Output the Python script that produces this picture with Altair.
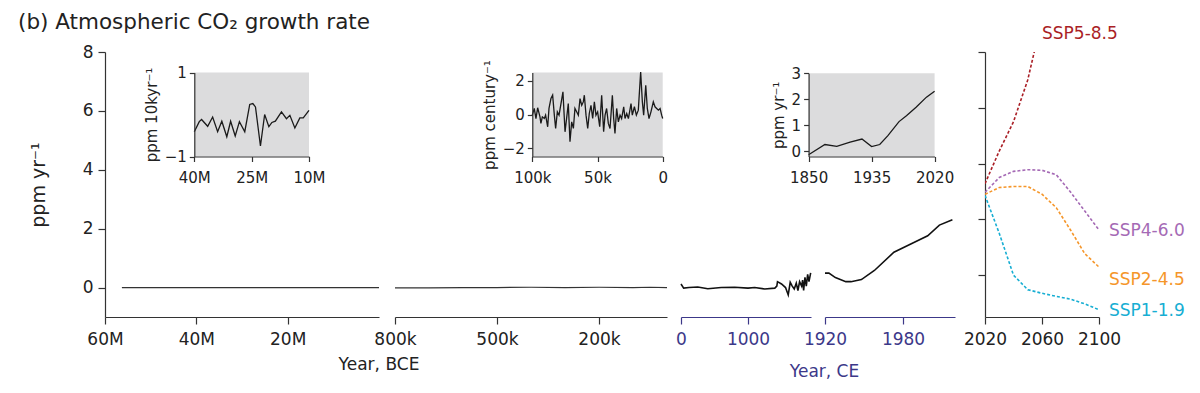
import altair as alt
import pandas as pd

FONT = "DejaVu Sans"
INK = "#222222"
AX = "#333333"
CE = "#3c3889"
GRAY = "#dcdcdd"
H = 265

TITLE = "(b) Atmospheric CO₂ growth rate"
Y_TITLE = "ppm yr⁻¹"

# ---------------- main panels ----------------
p1_year = [56.3, 40.0, 25.0, 10.0, 0.0]
p1_rate = [0.0, 0.0, 0.0, 0.0, 0.0]

p2_year = [800, 700, 600, 500, 400, 300, 200, 100, 50, 0]
p2_rate = [-0.01, -0.01, 0.0, 0.0, 0.01, 0.0, 0.01, 0.0, 0.01, 0.0]

p3_year = [0, 40, 120, 250, 400, 600, 800, 1000, 1100, 1250, 1400, 1430, 1440, 1500,
           1560, 1600, 1630, 1660, 1690, 1720, 1745, 1770, 1800, 1815, 1830, 1850,
           1870, 1890, 1910, 1935]
p3_rate = [0.12, -0.02, 0.0, 0.02, -0.04, 0.0, 0.01, -0.02, 0.0, -0.05, -0.02, 0.05, 0.2, 0.12,
           0.0, -0.25, 0.18, 0.05, -0.05, 0.15, -0.1, 0.2, 0.05, 0.25, -0.1, 0.35,
           0.05, 0.45, 0.2, 0.5]

p4_year = [1920, 1923, 1928, 1936, 1940, 1948, 1958, 1973, 1986, 1999, 2008, 2018]
p4_rate = [0.49, 0.49, 0.34, 0.20, 0.20, 0.27, 0.58, 1.20, 1.48, 1.76, 2.12, 2.30]

ssp_years = [2020, 2030, 2040, 2050, 2060, 2070, 2080, 2090, 2100]
ssp_names = ["SSP5-8.5", "SSP4-6.0", "SSP2-4.5", "SSP1-1.9"]
ssp_colors = ["#aa1f26", "#a56ab5", "#f5962a", "#17aed3"]
ssp585 = [3.28, 4.45, 5.5, 7.0, 9.2]
ssp460 = [2.97, 3.5, 3.72, 3.78, 3.76, 3.6, 2.98, 2.3, 1.62]
ssp245 = [2.9, 3.14, 3.18, 3.18, 2.9, 2.42, 1.62, 0.77, 0.29]
ssp119 = [2.86, 1.5, 0.0, -0.52, -0.65, -0.76, -0.86, -1.03, -1.24]
label_x = [2060, 2107, 2107, 2107]
label_y = [8.64, 1.58, -0.19, -1.27]

# ---------------- insets ----------------
i1_year = [40.0, 38.7, 38.1, 36.5, 35.2, 33.9, 32.8, 31.5, 30.5, 29.3, 28.2, 26.8, 25.5,
           24.7, 24.0, 22.7, 21.6, 20.5, 19.7, 18.8, 17.2, 15.9, 15.0, 13.7, 12.4, 11.5, 10.0]
i1_rate = [-0.41, -0.17, -0.12, -0.28, -0.06, -0.41, -0.16, -0.53, -0.16, -0.51, -0.17, -0.41, 0.24,
           0.26, 0.18, -0.75, 0.0, -0.29, -0.19, -0.16, 0.06, -0.1, -0.02, -0.32, -0.08, -0.08, 0.1]

i2_year = [100.0, 98.5, 97.2, 95.9, 94.1, 93.4, 92.3, 90.8, 89.8, 88.2, 87.2, 85.7, 84.4, 83.1,
           82.1, 80.8, 79.5, 78.0, 76.5, 74.9, 73.7, 72.4, 71.1, 69.8, 68.5, 67.3, 66.0, 64.7,
           63.4, 62.1, 60.9, 60.1, 58.8, 57.5, 56.3, 55.0, 53.7, 52.4, 51.2, 49.9, 48.3, 46.8,
           45.3, 44.2, 43.0, 41.7, 40.4, 38.6, 37.6, 36.6, 35.3, 34.0, 32.7, 31.5, 29.9, 28.9,
           27.6, 26.3, 24.3, 23.3, 21.7, 20.2, 18.7, 16.9, 15.6, 14.6, 13.0, 11.8, 10.5, 9.0,
           7.2, 5.9, 4.6, 3.3, 2.0, 0.8, 0.0]
i2_rate = [-0.04, 0.36, -0.24, 0.40, -0.14, -0.53, -0.14, -0.24, -0.04, -0.73, 0.36, 0.95, 1.15, -0.04,
           -0.83, 0.16, -0.04, 0.65, 1.35, -1.03, -0.24, 0.65, -1.62, -0.44, -0.83, 0.36, 0.16, -0.04,
           0.95, 0.55, 0.75, 1.15, -0.04, -0.83, 0.06, 0.55, -0.24, 0.75, -0.04, 0.16, -0.73, 1.15,
           -1.03, -0.04, 0.36, -0.53, -0.83, 1.15, -0.24, -1.13, 0.36, -0.44, -0.04, -0.24, 0.46, -0.24,
           0.06, -0.24, 0.65, -0.04, 0.46, -0.04, 0.26, 2.53, 0.75, -0.04, 1.74, 0.36, -0.24, 0.16,
           0.75, 0.46, 0.36, 0.26, 0.36, -0.04, -0.24]

i3_year = [1850, 1872, 1888, 1906, 1922, 1935, 1946, 1957, 1972, 1982, 1995, 2009, 2020]
i3_rate = [-0.13, 0.26, 0.19, 0.35, 0.47, 0.18, 0.26, 0.6, 1.14, 1.37, 1.69, 2.08, 2.31]


def ax(**kw):
    base = dict(domainColor=AX, tickColor=AX, labelColor=INK, labelFont=FONT, titleFont=FONT,
                titleColor=INK, grid=False, titleFontWeight="normal", domainWidth=1.2, tickWidth=1.2,
                labelFontSize=17, titleFontSize=17, tickSize=7, labelPadding=5,
                labelFlush=False, labelOverlap=False)
    base.update(kw)
    return alt.Axis(**base)


def sc(domain, rng=None):
    if rng is None:
        return alt.Scale(domain=domain, nice=False, zero=False)
    return alt.Scale(domain=domain, range=rng, nice=False, zero=False)


MAIN_Y = sc([-1, 8])


def inset(years, rates, xdom, xrange, ydom, yrange, xvals, xlabel, yvals, ytitle):
    line_df = pd.DataFrame({"iy": years, "ir": rates})
    box_df = pd.DataFrame({"bx0": [xdom[0]], "bx1": [xdom[1]], "by0": [ydom[0]], "by1": [ydom[1]]})
    xa = ax(orient="bottom", offset=-(H - yrange[0]), values=xvals, labelExpr=xlabel, title=None,
            labelFontSize=15, tickSize=5, labelPadding=9, zindex=1)
    ya = ax(orient="left", offset=-xrange[0], values=yvals, format="d", title=ytitle, labelFontSize=15,
            titleFontSize=15, tickSize=5, labelPadding=3, titlePadding=5, zindex=1)
    box = alt.Chart(box_df).mark_rect(color=GRAY).encode(
        x=alt.X("bx0:Q", scale=sc(xdom, xrange), axis=None), x2="bx1:Q",
        y=alt.Y("by0:Q", scale=sc(ydom, yrange), axis=None), y2="by1:Q")
    ln = alt.Chart(line_df).mark_line(color="#1a1a1a", strokeWidth=1.3).encode(
        x=alt.X("iy:Q", scale=sc(xdom, xrange), axis=xa),
        y=alt.Y("ir:Q", scale=sc(ydom, yrange), axis=ya))
    return [box, ln]


def panel(layers, width):
    return alt.layer(*layers).resolve_scale(x="independent", y="independent").properties(
        width=width, height=H)


# Panel 1
df1 = pd.DataFrame({"year": p1_year, "rate": p1_rate})
main1 = alt.Chart(df1).mark_line(color="#333333", strokeWidth=1.2).encode(
    x=alt.X("year:Q", scale=sc([60, 0], [0, 274]),
            axis=ax(values=[60, 40, 20], labelExpr="datum.value + 'M'", title="Year, BCE",
                    labelPadding=7, titleX=273.5, titleY=52.5, titleAlign="center",
                    titleBaseline="alphabetic")),
    y=alt.Y("rate:Q", scale=MAIN_Y,
            axis=ax(values=[0, 2, 4, 6, 8], title=Y_TITLE, titleFontSize=19, titlePadding=34)))
c1 = panel([main1] + inset(i1_year, i1_rate, [40, 10], [89.3, 204], [-1, 1], [104.5, 20.5],
                           [40, 25, 10], "datum.value + 'M'", [-1, 0, 1], "ppm 10kyr⁻¹"), 290)

# Panel 2
df2 = pd.DataFrame({"year": p2_year, "rate": p2_rate})
main2 = alt.Chart(df2).mark_line(color="#333333", strokeWidth=1.2).encode(
    x=alt.X("year:Q", scale=sc([800, 0], [0, 272]),
            axis=ax(values=[800, 500, 200], labelExpr="datum.value + 'k'", title=None, labelPadding=7)),
    y=alt.Y("rate:Q", scale=MAIN_Y, axis=None))
c2 = panel([main2] + inset(i2_year, i2_rate, [100, 0], [137.3, 267.7], [-2.5, 2.5], [104.5, 20.5],
                           [100, 50, 0], "datum.value == 0 ? '0' : datum.value + 'k'", [-2, 0, 2],
                           "ppm century⁻¹"), 285.7)

# Panel 3
df3 = pd.DataFrame({"year": p3_year, "rate": p3_rate})
main3 = alt.Chart(df3).mark_line(color="#111111", strokeWidth=1.6).encode(
    x=alt.X("year:Q", scale=sc([0, 1940], [0, 130]),
            axis=ax(values=[0, 1000], format="d", title=None, domainColor=CE, tickColor=CE,
                    labelColor=CE, labelPadding=7)),
    y=alt.Y("rate:Q", scale=MAIN_Y, axis=None))
c3 = panel([main3] + inset(i3_year, i3_rate, [1850, 2020], [127.6, 253.6], [-0.2, 3], [104.5, 21.2],
                           [1850, 1935, 2020], "format(datum.value, 'd')", [0, 1, 2, 3], Y_TITLE), 143.3)

# Panel 4
df4 = pd.DataFrame({"year": p4_year, "rate": p4_rate})
c4 = alt.Chart(df4).mark_line(color="#111111", strokeWidth=1.6).encode(
    x=alt.X("year:Q", scale=sc([1920, 2020], [0, 130]),
            axis=ax(values=[1920, 1980], format="d", title="Year, CE", domainColor=CE, tickColor=CE,
                    labelColor=CE, titleColor=CE, labelPadding=7, titleX=-1, titleY=59.5,
                    titleAlign="center", titleBaseline="alphabetic")),
    y=alt.Y("rate:Q", scale=MAIN_Y, axis=None)).properties(width=160, height=H)

# Panel 5
rows = []
for name, vals in zip(ssp_names, [ssp585, ssp460, ssp245, ssp119]):
    for yr, v in zip(ssp_years, vals):
        rows.append({"year": yr, "rate": v, "scenario": name})
df5 = pd.DataFrame(rows)
lab5 = pd.DataFrame({"year": label_x, "rate": label_y, "scenario": ssp_names})
col = alt.Color("scenario:N", scale=alt.Scale(domain=ssp_names, range=ssp_colors), legend=None)
x5 = alt.X("year:Q", scale=sc([2020, 2100], [0, 114]),
           axis=ax(values=[2020, 2060, 2100], format="d", title=None, labelPadding=7))
y5 = alt.Y("rate:Q", scale=sc([-1.5, 8]), axis=ax(values=[0, 2, 4, 6, 8], labels=False, title=None))
lines5 = alt.Chart(df5).mark_line(strokeWidth=1.6, strokeDash=[3, 2], clip=True).encode(
    x=x5, y=y5, color=col, detail="scenario:N")
text5 = alt.Chart(lab5).mark_text(align="left", baseline="middle", fontSize=17, font=FONT).encode(
    x=alt.X("year:Q"), y=alt.Y("rate:Q"), text="scenario:N", color=col)
c5 = alt.layer(lines5, text5).properties(width=114, height=H)

chart = alt.hconcat(c1, c2, c3, c4, c5, spacing=0, bounds="flush").properties(
    title=alt.TitleParams(TITLE, anchor="start", frame="group", fontSize=21.5, font=FONT, color=INK,
                          fontWeight="normal", dx=-87, offset=-25, baseline="alphabetic"),
    padding={"left": 10, "top": 3, "right": 5, "bottom": 5},
).configure_view(stroke=None)

chart.save("out.html", embed_options={"renderer": "svg", "actions": False})
